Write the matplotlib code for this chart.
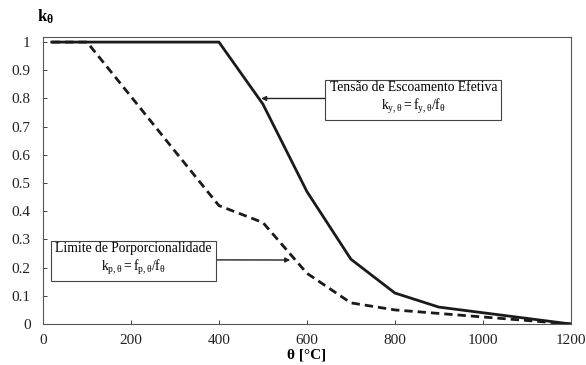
import matplotlib
matplotlib.use('Agg')
import matplotlib.pyplot as plt

plt.rcParams['font.family'] = ['Liberation Serif', 'DejaVu Serif']
plt.rcParams['mathtext.fontset'] = 'custom'
plt.rcParams['mathtext.rm'] = 'Liberation Serif'
plt.rcParams['mathtext.it'] = 'Liberation Serif:italic'
plt.rcParams['mathtext.bf'] = 'Liberation Serif:bold'

temps = [20, 100, 200, 300, 400, 500, 600, 700, 800, 900, 1000, 1100, 1200]
ky = [1.0, 1.0, 1.0, 1.0, 1.0, 0.78, 0.47, 0.23, 0.11, 0.06, 0.04, 0.02, 0.0]
kp = [1.0, 1.0, 0.807, 0.613, 0.42, 0.36, 0.18, 0.075, 0.05, 0.0375, 0.025, 0.0125, 0.0]
xticks = [0, 200, 400, 600, 800, 1000, 1200]
yticks = [0, 0.1, 0.2, 0.3, 0.4, 0.5, 0.6, 0.7, 0.8, 0.9, 1]

fig = plt.figure(figsize=(5.86, 3.65), dpi=100)
ax = fig.add_axes([0.0734, 0.1123, 0.9006, 0.7863])

ax.plot(temps, ky, color='#1a1a1a', lw=2.0, solid_joinstyle='miter')
ax.plot(temps, kp, color='#1a1a1a', lw=2.0, ls=(0, (3, 1.8)))

ax.set_xlim(0, 1200)
ax.set_ylim(0, 1.018)
ax.set_xticks(xticks)
ax.set_yticks(yticks)
ax.set_yticklabels(['0', '0.1', '0.2', '0.3', '0.4', '0.5', '0.6', '0.7', '0.8', '0.9', '1'])
ax.tick_params(direction='in', length=3, width=0.6, labelsize=11, colors='#222222')
ax.tick_params(axis='y', pad=9)
ax.tick_params(axis='x', pad=7)
for s in ax.spines.values():
    s.set_linewidth(0.8)
    s.set_color('#555555')

fig.text(0.077, 0.953, r'$\mathbf{k}_{\mathbf{\theta}}$', fontsize=12, fontweight='bold', ha='center', va='center')
ax.set_xlabel('θ [°C]', fontsize=11, fontweight='bold', labelpad=1)

box = dict(boxstyle='square,pad=0.3', fc='white', ec='#444444', lw=0.8)
ax.annotate('Tensão de Escoamento Efetiva\n' + r'$\mathrm{k_{y,\theta} = f_{y,\theta}/f_\theta}$',
            xy=(496, 0.80), xytext=(842, 0.80), ha='center', va='center', fontsize=9.8,
            linespacing=1.25, bbox=box,
            arrowprops=dict(arrowstyle='-|>', color='#222222', lw=1.0, shrinkA=0, shrinkB=0,
                            mutation_scale=7))
ax.annotate('Limite de Porporcionalidade\n' + r'$\mathrm{k_{p,\theta} = f_{p,\theta}/f_\theta}$',
            xy=(562, 0.227), xytext=(205, 0.228), ha='center', va='center', fontsize=9.8,
            linespacing=1.25, bbox=box,
            arrowprops=dict(arrowstyle='-|>', color='#222222', lw=1.0, shrinkA=0, shrinkB=0,
                            mutation_scale=7))

fig.savefig('out.png', dpi=100)
